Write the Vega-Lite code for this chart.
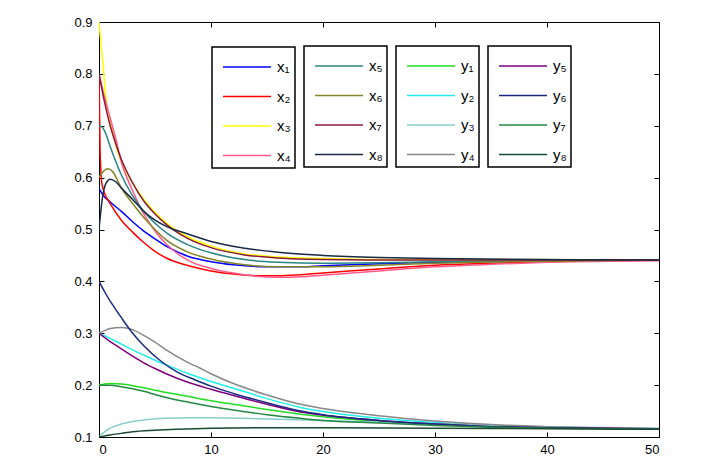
{
  "$schema": "https://vega.github.io/schema/vega-lite/v6.json",
  "autosize": {"type": "none"},
  "width": 560,
  "height": 415,
  "padding": {"left": 99, "top": 22, "right": 54, "bottom": 31},
  "background": "white",
  "view": {"stroke": "black", "strokeWidth": 1},
  "config": {
    "font": "Liberation Sans",
    "axis": {"grid": false, "domainColor": "black", "tickColor": "black", "labelColor": "black", "labelFontSize": 13, "labelFont": "Liberation Sans", "title": null, "tickSize": 5, "labelPadding": 6},
    "legend": {"orient": "none", "symbolType": "M-0.6,0H2.6", "symbolSize": 900, "symbolStrokeWidth": 1.5, "labelFontSize": 15, "labelFont": "Liberation Sans", "labelColor": "black", "strokeColor": "black", "strokeWidth": 1.5, "fillColor": "white", "labelOffset": 29, "padding": 4, "rowPadding": 5.5, "title": null}
  },
  "datasets": {
    "g1": [
      {"s":"x₁","t":0,"v":0.58},{"s":"x₁","t":0.3,"v":0.568},{"s":"x₁","t":1,"v":0.553},{"s":"x₁","t":2,"v":0.535},{"s":"x₁","t":3,"v":0.515},{"s":"x₁","t":4,"v":0.497},{"s":"x₁","t":5,"v":0.482},{"s":"x₁","t":6,"v":0.468},{"s":"x₁","t":8,"v":0.448},{"s":"x₁","t":10,"v":0.438},{"s":"x₁","t":12,"v":0.432},{"s":"x₁","t":15,"v":0.428},{"s":"x₁","t":18,"v":0.428},{"s":"x₁","t":20,"v":0.43},{"s":"x₁","t":25,"v":0.434},{"s":"x₁","t":30,"v":0.437},{"s":"x₁","t":35,"v":0.439},{"s":"x₁","t":40,"v":0.44},{"s":"x₁","t":50,"v":0.441},
      {"s":"x₂","t":0,"v":0.8},{"s":"x₂","t":0.1,"v":0.65},{"s":"x₂","t":0.25,"v":0.59},{"s":"x₂","t":0.5,"v":0.57},{"s":"x₂","t":1,"v":0.55},{"s":"x₂","t":2,"v":0.518},{"s":"x₂","t":3,"v":0.495},{"s":"x₂","t":4,"v":0.475},{"s":"x₂","t":5,"v":0.458},{"s":"x₂","t":6,"v":0.445},{"s":"x₂","t":8,"v":0.43},{"s":"x₂","t":10,"v":0.42},{"s":"x₂","t":12,"v":0.414},{"s":"x₂","t":14,"v":0.411},{"s":"x₂","t":16,"v":0.411},{"s":"x₂","t":18,"v":0.413},{"s":"x₂","t":20,"v":0.416},{"s":"x₂","t":25,"v":0.424},{"s":"x₂","t":30,"v":0.431},{"s":"x₂","t":35,"v":0.435},{"s":"x₂","t":40,"v":0.438},{"s":"x₂","t":50,"v":0.441},
      {"s":"x₃","t":0,"v":0.9},{"s":"x₃","t":0.3,"v":0.83},{"s":"x₃","t":0.7,"v":0.74},{"s":"x₃","t":1,"v":0.71},{"s":"x₃","t":1.6,"v":0.655},{"s":"x₃","t":2,"v":0.63},{"s":"x₃","t":3,"v":0.59},{"s":"x₃","t":4,"v":0.558},{"s":"x₃","t":5,"v":0.533},{"s":"x₃","t":6,"v":0.513},{"s":"x₃","t":8,"v":0.485},{"s":"x₃","t":10,"v":0.468},{"s":"x₃","t":13,"v":0.453},{"s":"x₃","t":16,"v":0.447},{"s":"x₃","t":20,"v":0.444},{"s":"x₃","t":25,"v":0.442},{"s":"x₃","t":30,"v":0.442},{"s":"x₃","t":40,"v":0.441},{"s":"x₃","t":50,"v":0.441},
      {"s":"x₄","t":0,"v":0.8},{"s":"x₄","t":0.5,"v":0.755},{"s":"x₄","t":1,"v":0.715},{"s":"x₄","t":1.5,"v":0.675},{"s":"x₄","t":2,"v":0.63},{"s":"x₄","t":3,"v":0.575},{"s":"x₄","t":4,"v":0.53},{"s":"x₄","t":5,"v":0.497},{"s":"x₄","t":6,"v":0.472},{"s":"x₄","t":8,"v":0.44},{"s":"x₄","t":10,"v":0.425},{"s":"x₄","t":12,"v":0.416},{"s":"x₄","t":14,"v":0.41},{"s":"x₄","t":16,"v":0.408},{"s":"x₄","t":18,"v":0.409},{"s":"x₄","t":20,"v":0.412},{"s":"x₄","t":25,"v":0.42},{"s":"x₄","t":30,"v":0.428},{"s":"x₄","t":35,"v":0.433},{"s":"x₄","t":40,"v":0.437},{"s":"x₄","t":50,"v":0.44}
    ],
    "g2": [
      {"s":"x₅","t":0,"v":0.7},{"s":"x₅","t":0.3,"v":0.697},{"s":"x₅","t":0.6,"v":0.685},{"s":"x₅","t":1,"v":0.66},{"s":"x₅","t":2,"v":0.605},{"s":"x₅","t":3,"v":0.565},{"s":"x₅","t":4,"v":0.535},{"s":"x₅","t":5,"v":0.512},{"s":"x₅","t":6,"v":0.494},{"s":"x₅","t":8,"v":0.47},{"s":"x₅","t":10,"v":0.455},{"s":"x₅","t":13,"v":0.442},{"s":"x₅","t":16,"v":0.437},{"s":"x₅","t":20,"v":0.435},{"s":"x₅","t":25,"v":0.436},{"s":"x₅","t":30,"v":0.438},{"s":"x₅","t":40,"v":0.44},{"s":"x₅","t":50,"v":0.441},
      {"s":"x₆","t":0,"v":0.6},{"s":"x₆","t":0.3,"v":0.61},{"s":"x₆","t":0.8,"v":0.617},{"s":"x₆","t":1.2,"v":0.612},{"s":"x₆","t":2,"v":0.58},{"s":"x₆","t":3,"v":0.55},{"s":"x₆","t":4,"v":0.523},{"s":"x₆","t":5,"v":0.5},{"s":"x₆","t":6,"v":0.48},{"s":"x₆","t":8,"v":0.456},{"s":"x₆","t":10,"v":0.443},{"s":"x₆","t":13,"v":0.432},{"s":"x₆","t":16,"v":0.428},{"s":"x₆","t":20,"v":0.428},{"s":"x₆","t":25,"v":0.431},{"s":"x₆","t":30,"v":0.435},{"s":"x₆","t":40,"v":0.439},{"s":"x₆","t":50,"v":0.441},
      {"s":"x₇","t":0,"v":0.8},{"s":"x₇","t":0.5,"v":0.745},{"s":"x₇","t":1,"v":0.7},{"s":"x₇","t":1.5,"v":0.665},{"s":"x₇","t":2,"v":0.635},{"s":"x₇","t":3,"v":0.59},{"s":"x₇","t":4,"v":0.555},{"s":"x₇","t":5,"v":0.53},{"s":"x₇","t":6,"v":0.51},{"s":"x₇","t":8,"v":0.482},{"s":"x₇","t":10,"v":0.465},{"s":"x₇","t":13,"v":0.451},{"s":"x₇","t":16,"v":0.445},{"s":"x₇","t":20,"v":0.442},{"s":"x₇","t":25,"v":0.441},{"s":"x₇","t":30,"v":0.441},{"s":"x₇","t":50,"v":0.441},
      {"s":"x₈","t":0,"v":0.5},{"s":"x₈","t":0.3,"v":0.56},{"s":"x₈","t":0.6,"v":0.588},{"s":"x₈","t":1,"v":0.597},{"s":"x₈","t":1.5,"v":0.592},{"s":"x₈","t":2,"v":0.58},{"s":"x₈","t":3,"v":0.558},{"s":"x₈","t":4,"v":0.535},{"s":"x₈","t":5,"v":0.518},{"s":"x₈","t":6,"v":0.506},{"s":"x₈","t":8,"v":0.491},{"s":"x₈","t":10,"v":0.477},{"s":"x₈","t":13,"v":0.464},{"s":"x₈","t":16,"v":0.456},{"s":"x₈","t":20,"v":0.45},{"s":"x₈","t":25,"v":0.446},{"s":"x₈","t":30,"v":0.444},{"s":"x₈","t":40,"v":0.442},{"s":"x₈","t":50,"v":0.441}
    ],
    "g3": [
      {"s":"y₁","t":0,"v":0.2},{"s":"y₁","t":0.5,"v":0.202},{"s":"y₁","t":1,"v":0.203},{"s":"y₁","t":2,"v":0.202},{"s":"y₁","t":3,"v":0.199},{"s":"y₁","t":4,"v":0.195},{"s":"y₁","t":5,"v":0.19},{"s":"y₁","t":6,"v":0.186},{"s":"y₁","t":8,"v":0.178},{"s":"y₁","t":10,"v":0.17},{"s":"y₁","t":12,"v":0.163},{"s":"y₁","t":15,"v":0.153},{"s":"y₁","t":18,"v":0.144},{"s":"y₁","t":20,"v":0.139},{"s":"y₁","t":25,"v":0.13},{"s":"y₁","t":30,"v":0.124},{"s":"y₁","t":35,"v":0.12},{"s":"y₁","t":40,"v":0.118},{"s":"y₁","t":50,"v":0.115},
      {"s":"y₂","t":0,"v":0.3},{"s":"y₂","t":1,"v":0.29},{"s":"y₂","t":2,"v":0.279},{"s":"y₂","t":3,"v":0.268},{"s":"y₂","t":4,"v":0.258},{"s":"y₂","t":5,"v":0.248},{"s":"y₂","t":6,"v":0.239},{"s":"y₂","t":8,"v":0.222},{"s":"y₂","t":10,"v":0.207},{"s":"y₂","t":12,"v":0.194},{"s":"y₂","t":15,"v":0.174},{"s":"y₂","t":18,"v":0.157},{"s":"y₂","t":20,"v":0.149},{"s":"y₂","t":25,"v":0.136},{"s":"y₂","t":30,"v":0.128},{"s":"y₂","t":35,"v":0.122},{"s":"y₂","t":40,"v":0.119},{"s":"y₂","t":50,"v":0.116},
      {"s":"y₃","t":0,"v":0.1},{"s":"y₃","t":0.5,"v":0.11},{"s":"y₃","t":1,"v":0.117},{"s":"y₃","t":2,"v":0.125},{"s":"y₃","t":3,"v":0.13},{"s":"y₃","t":4,"v":0.133},{"s":"y₃","t":6,"v":0.136},{"s":"y₃","t":8,"v":0.137},{"s":"y₃","t":10,"v":0.137},{"s":"y₃","t":13,"v":0.136},{"s":"y₃","t":16,"v":0.134},{"s":"y₃","t":20,"v":0.132},{"s":"y₃","t":25,"v":0.129},{"s":"y₃","t":30,"v":0.126},{"s":"y₃","t":35,"v":0.123},{"s":"y₃","t":40,"v":0.12},{"s":"y₃","t":50,"v":0.117},
      {"s":"y₄","t":0,"v":0.3},{"s":"y₄","t":0.5,"v":0.305},{"s":"y₄","t":1,"v":0.309},{"s":"y₄","t":2,"v":0.311},{"s":"y₄","t":3,"v":0.307},{"s":"y₄","t":4,"v":0.296},{"s":"y₄","t":5,"v":0.283},{"s":"y₄","t":6,"v":0.268},{"s":"y₄","t":8,"v":0.243},{"s":"y₄","t":9,"v":0.233},{"s":"y₄","t":10,"v":0.222},{"s":"y₄","t":12,"v":0.203},{"s":"y₄","t":15,"v":0.181},{"s":"y₄","t":18,"v":0.163},{"s":"y₄","t":20,"v":0.155},{"s":"y₄","t":25,"v":0.141},{"s":"y₄","t":30,"v":0.131},{"s":"y₄","t":35,"v":0.124},{"s":"y₄","t":40,"v":0.12},{"s":"y₄","t":50,"v":0.116}
    ],
    "g4": [
      {"s":"y₅","t":0,"v":0.3},{"s":"y₅","t":1,"v":0.284},{"s":"y₅","t":2,"v":0.27},{"s":"y₅","t":3,"v":0.256},{"s":"y₅","t":4,"v":0.243},{"s":"y₅","t":5,"v":0.232},{"s":"y₅","t":6,"v":0.222},{"s":"y₅","t":8,"v":0.205},{"s":"y₅","t":10,"v":0.192},{"s":"y₅","t":12,"v":0.18},{"s":"y₅","t":15,"v":0.163},{"s":"y₅","t":18,"v":0.148},{"s":"y₅","t":20,"v":0.142},{"s":"y₅","t":25,"v":0.132},{"s":"y₅","t":30,"v":0.125},{"s":"y₅","t":35,"v":0.12},{"s":"y₅","t":40,"v":0.118},{"s":"y₅","t":50,"v":0.116},
      {"s":"y₆","t":0,"v":0.4},{"s":"y₆","t":0.5,"v":0.38},{"s":"y₆","t":1,"v":0.362},{"s":"y₆","t":1.4,"v":0.349},{"s":"y₆","t":2,"v":0.33},{"s":"y₆","t":2.9,"v":0.303},{"s":"y₆","t":4,"v":0.276},{"s":"y₆","t":5.6,"v":0.245},{"s":"y₆","t":7,"v":0.225},{"s":"y₆","t":8.6,"v":0.21},{"s":"y₆","t":10,"v":0.198},{"s":"y₆","t":12,"v":0.184},{"s":"y₆","t":15,"v":0.166},{"s":"y₆","t":18,"v":0.15},{"s":"y₆","t":20,"v":0.143},{"s":"y₆","t":25,"v":0.132},{"s":"y₆","t":30,"v":0.125},{"s":"y₆","t":35,"v":0.12},{"s":"y₆","t":40,"v":0.118},{"s":"y₆","t":50,"v":0.115},
      {"s":"y₇","t":0,"v":0.2},{"s":"y₇","t":1,"v":0.2},{"s":"y₇","t":2,"v":0.197},{"s":"y₇","t":3,"v":0.193},{"s":"y₇","t":4,"v":0.188},{"s":"y₇","t":5,"v":0.182},{"s":"y₇","t":6,"v":0.176},{"s":"y₇","t":8,"v":0.167},{"s":"y₇","t":10,"v":0.159},{"s":"y₇","t":12,"v":0.152},{"s":"y₇","t":15,"v":0.143},{"s":"y₇","t":18,"v":0.136},{"s":"y₇","t":20,"v":0.132},{"s":"y₇","t":25,"v":0.127},{"s":"y₇","t":30,"v":0.122},{"s":"y₇","t":35,"v":0.119},{"s":"y₇","t":40,"v":0.117},{"s":"y₇","t":50,"v":0.115},
      {"s":"y₈","t":0,"v":0.1},{"s":"y₈","t":1,"v":0.104},{"s":"y₈","t":2,"v":0.107},{"s":"y₈","t":3,"v":0.11},{"s":"y₈","t":5,"v":0.113},{"s":"y₈","t":7,"v":0.115},{"s":"y₈","t":10,"v":0.117},{"s":"y₈","t":15,"v":0.118},{"s":"y₈","t":20,"v":0.118},{"s":"y₈","t":30,"v":0.117},{"s":"y₈","t":40,"v":0.116},{"s":"y₈","t":50,"v":0.115}
    ]
  },
  "resolve": {"scale": {"color": "independent"}, "axis": {"x": "independent", "y": "independent"}},
  "layer": [
    {
      "data": {"name": "g1"},
      "mark": {"type": "line", "interpolate": "monotone", "strokeWidth": 1.5, "clip": true},
      "encoding": {
        "x": {"field": "t", "type": "quantitative", "scale": {"domain": [0, 50], "nice": false, "zero": false}, "axis": {"values": [0, 10, 20, 30, 40, 50], "orient": "bottom", "ticks": false}},
        "y": {"field": "v", "type": "quantitative", "scale": {"domain": [0.1, 0.9], "nice": false, "zero": false}, "axis": {"values": [0.1, 0.2, 0.3, 0.4, 0.5, 0.6, 0.7, 0.8, 0.9], "format": ".1f", "orient": "left", "ticks": false, "labelPadding": 7}},
        "color": {"field": "s", "type": "nominal", "scale": {"domain": ["x₁", "x₂", "x₃", "x₄"], "range": ["#0000ff", "#ff0000", "#ffff00", "#ff5a8a"]}, "legend": {"legendX": 113, "legendY": 25}}
      }
    },
    {
      "data": {"name": "g2"},
      "mark": {"type": "line", "interpolate": "monotone", "strokeWidth": 1.5, "clip": true},
      "encoding": {
        "x": {"field": "t", "type": "quantitative", "axis": null},
        "y": {"field": "v", "type": "quantitative", "axis": null},
        "color": {"field": "s", "type": "nominal", "scale": {"domain": ["x₅", "x₆", "x₇", "x₈"], "range": ["#2a8585", "#85852a", "#8b1a3a", "#1a2a45"]}, "legend": {"legendX": 205, "legendY": 24}}
      }
    },
    {
      "data": {"name": "g3"},
      "mark": {"type": "line", "interpolate": "monotone", "strokeWidth": 1.5, "clip": true},
      "encoding": {
        "x": {"field": "t", "type": "quantitative", "axis": null},
        "y": {"field": "v", "type": "quantitative", "axis": null},
        "color": {"field": "s", "type": "nominal", "scale": {"domain": ["y₁", "y₂", "y₃", "y₄"], "range": ["#22dd22", "#22eeee", "#88cccc", "#888888"]}, "legend": {"legendX": 297, "legendY": 24}}
      }
    },
    {
      "data": {"name": "g4"},
      "mark": {"type": "line", "interpolate": "monotone", "strokeWidth": 1.5, "clip": true},
      "encoding": {
        "x": {"field": "t", "type": "quantitative", "axis": null},
        "y": {"field": "v", "type": "quantitative", "axis": null},
        "color": {"field": "s", "type": "nominal", "scale": {"domain": ["y₅", "y₆", "y₇", "y₈"], "range": ["#800080", "#1a2a80", "#228844", "#1a4a30"]}, "legend": {"legendX": 389, "legendY": 24}}
      }
    },
    {
      "data": {"name": "g1"},
      "mark": {"type": "point", "opacity": 0},
      "encoding": {
        "x": {"field": "t", "type": "quantitative", "axis": {"values": [0, 10, 20, 30, 40, 50], "orient": "top", "offset": -415, "labels": false, "domain": false}},
        "y": {"field": "v", "type": "quantitative", "axis": {"values": [0.1, 0.2, 0.3, 0.4, 0.5, 0.6, 0.7, 0.8, 0.9], "orient": "right", "offset": -560, "labels": false, "domain": false}}
      }
    },
    {
      "data": {"name": "g1"},
      "mark": {"type": "point", "opacity": 0},
      "encoding": {
        "x": {"field": "t", "type": "quantitative", "axis": {"values": [0, 10, 20, 30, 40, 50], "orient": "bottom", "offset": -415, "labels": false, "domain": false}},
        "y": {"field": "v", "type": "quantitative", "axis": {"values": [0.1, 0.2, 0.3, 0.4, 0.5, 0.6, 0.7, 0.8, 0.9], "orient": "left", "offset": -560, "labels": false, "domain": false}}
      }
    }
  ]
}
